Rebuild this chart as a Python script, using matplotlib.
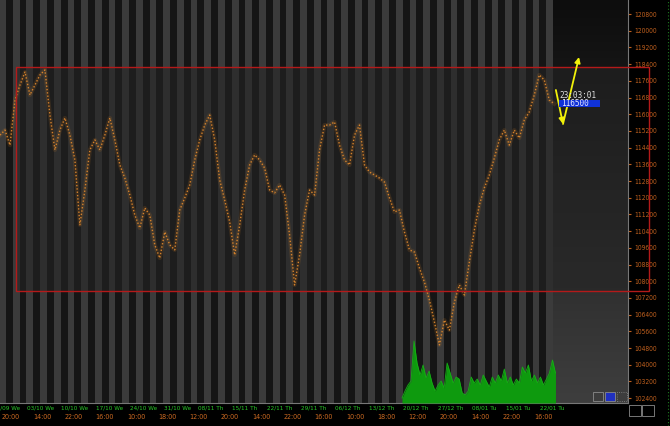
import numpy as np
import matplotlib
matplotlib.use('Agg')
import matplotlib.pyplot as plt
from matplotlib.patches import Rectangle
from matplotlib.colors import LinearSegmentedColormap
import matplotlib.transforms as mtransforms
from matplotlib import font_manager
from matplotlib.font_manager import FontProperties


# price samples, one every ~0.73 trading day
price = [115000, 115240, 114520, 116680, 117400, 118020, 116920, 117400, 117880, 118120,
         115960, 114290, 115240, 115820, 115000, 113810, 110700, 112370, 114290, 114770,
         114290, 115000, 115820, 114770, 113570, 112940, 112130, 111170, 110550, 111510,
         111170, 109740, 109110, 110360, 109740, 109500, 111410, 111990, 112610, 113810,
         114770, 115480, 115960, 114770, 112850, 111890, 110840, 109260, 110690, 112370,
         113570, 114050, 113810, 113420, 112370, 112230, 112610, 112130, 110210, 107820,
         109260, 111170, 112370, 112130, 114290, 115480, 115480, 115630, 114520, 113810,
         113570, 115000, 115480, 113570, 113230, 113090, 112940, 112750, 111990, 111320,
         111410, 110360, 109500, 109400, 108630, 107960, 107100, 106050, 104950, 106140,
         105660, 107000, 107820, 107340, 108920, 110450, 111650, 112470, 113090, 113900,
         114770, 115240, 114520, 115240, 114860, 115720, 116110, 116920, 117880, 117640,
         116680, 116500]
price_step = 0.73
price_start = 0.13

# volume histogram, one sample every ~0.44 day starting at day 58.9
volume = [5, 12, 18, 22, 62, 40, 28, 38, 25, 32, 20, 12, 18, 22, 15, 40, 30, 20, 26, 24,
          10, 8, 12, 26, 20, 24, 18, 28, 22, 16, 26, 20, 28, 22, 34, 20, 26, 18, 24, 20,
          36, 30, 38, 22, 28, 20, 26, 18, 24, 30, 43, 30]
vol_start = 58.9
vol_step = 0.44

n_days = 81
date_labels = ['26/09 We', '03/10 We', '10/10 We', '17/10 We', '24/10 We', '31/10 We',
               '08/11 Th', '15/11 Th', '22/11 Th', '29/11 Th', '06/12 Th', '13/12 Th',
               '20/12 Th', '27/12 Th', '08/01 Tu', '15/01 Tu', '22/01 Tu']
time_labels = ['20:00', '14:00', '22:00', '16:00', '10:00', '18:00', '12:00', '20:00', '14:00',
               '22:00', '16:00', '10:00', '18:00', '12:00', '20:00', '14:00', '22:00', '16:00']
yticks = list(range(102400, 121600, 800))

# marked range and drawn arrows
box_lo, box_hi = 107530, 118260
box_t0, box_t1 = 2.47, 95.0
arrow_t = [81.4, 82.44, 84.78]
arrow_p = [117160, 115531, 118740]
last_price = 116500
last_time = '23:03:01'


def pick_font():
    # prefer a narrow face, the chart uses a tight bitmap font
    for fam, st in [('DejaVu Sans', 'condensed'), ('Liberation Sans Narrow', 'normal'),
                    ('Roboto Condensed', 'normal'), ('Open Sans', 'condensed'),
                    ('Noto Sans', 'condensed'), ('Roboto', 'condensed')]:
        try:
            path = font_manager.findfont(FontProperties(family=fam, stretch=st),
                                         fallback_to_default=False)
        except Exception:
            continue
        if 'ondensed' in path or 'Narrow' in path:
            return FontProperties(fname=path)
    return FontProperties(family='DejaVu Sans Mono')


base_fp = pick_font()

W, H = 670, 426
fig = plt.figure(figsize=(W / 100, H / 100), dpi=100, facecolor='black')
renderer = fig.canvas.get_renderer()


def fit_size(sample, width_px, cap=7.0):
    t = fig.text(0, 0, sample, fontproperties=base_fp, fontsize=10)
    w = t.get_window_extent(renderer).width
    t.remove()
    return min(cap, 10 * width_px / w)


ax = fig.add_axes([0, 23 / H, 628 / W, 403 / H])
xmax = 0.13 + 628 / 6.84
ax.set_xlim(0.13, xmax)
ax.set_ylim(102167, 121471)
ax.set_facecolor('#151515')

for i in range(0, n_days, 2):
    ax.axvspan(i, i + 1, color='#3b3b3b', lw=0, zorder=0)

grad = LinearSegmentedColormap.from_list('g', ['#0d0d0d', '#3e3e3e'])
ax.imshow(np.linspace(0, 1, 200)[:, None], extent=[n_days, xmax, 102167, 121471],
          aspect='auto', cmap=grad, zorder=0.5)

# range box
ax.add_patch(Rectangle((box_t0, box_lo), box_t1 - box_t0, box_hi - box_lo,
                       facecolor='#242424', alpha=0.55, lw=0, zorder=1))
ax.add_patch(Rectangle((box_t0, box_lo), box_t1 - box_t0, box_hi - box_lo,
                       facecolor='none', edgecolor='#b41a1a', lw=1.0, zorder=6, clip_on=False))

# volume
axv = fig.add_axes(ax.get_position(), sharex=ax)
axv.set_ylim(0, 403)
axv.patch.set_visible(False)
axv.axis('off')
tv = vol_start + np.arange(len(volume)) * vol_step
axv.fill_between(tv, 0, volume, color='#0e9a0e', lw=0, zorder=2)
axv.plot(tv, volume, color='#14b014', lw=0.6)

# price
tp = price_start + np.arange(len(price)) * price_step
ax.plot(tp, price, color='#c87a26', lw=3.0, alpha=0.16, zorder=3)
ax.plot(tp, price, color='#d4822c', lw=1.0, ls=(0, (1, 1.4)), zorder=4)

# arrows
ax.annotate('', xy=(arrow_t[1], arrow_p[1]), xytext=(arrow_t[0], arrow_p[0]),
            arrowprops=dict(arrowstyle='-|>', color='#f2f20a', lw=1.3, mutation_scale=8,
                            shrinkA=0, shrinkB=0), zorder=7)
ax.annotate('', xy=(arrow_t[2], arrow_p[2]), xytext=(arrow_t[1], arrow_p[1]),
            arrowprops=dict(arrowstyle='-|>', color='#f2f20a', lw=1.3, mutation_scale=8,
                            shrinkA=0, shrinkB=0), zorder=7)

mono = 'DejaVu Sans Mono'
ax.add_patch(Rectangle((81.85, 116346), 6.0, 335, facecolor='#1032d8', lw=0, zorder=8,
                       clip_on=False))
ax.text(82.2, last_price + 12, str(last_price), color='#e8e8ff', fontsize=5.6, family=mono,
        va='center', ha='left', zorder=9, clip_on=False)
ax.text(81.9, last_price + 400, last_time, color='#e0e0e0', fontsize=5.6, family=mono,
        va='center', ha='left', zorder=9, clip_on=False)

# axes cosmetics
for s in ['top', 'left']:
    ax.spines[s].set_visible(False)
ax.spines['right'].set_color('#777777')
ax.spines['bottom'].set_color('#777777')
ax.spines['right'].set_linewidth(0.8)
ax.spines['bottom'].set_linewidth(0.8)
ax.set_xticks([])
ax.yaxis.tick_right()
ax.set_yticks(yticks)
ax.set_yticklabels([str(v) for v in yticks])
ysize = fit_size('120800', 23)
ax.tick_params(axis='y', colors='#c0601e', length=2.5, width=0.8, pad=2)
for lab in ax.get_yticklabels():
    lab.set_fontproperties(base_fp)
    lab.set_fontsize(ysize)

# two-row time axis
trans = mtransforms.blended_transform_factory(ax.transData, fig.transFigure)
dsize = fit_size('03/10 We', 27)
tsize = fit_size('20:00', 18.5)
for k, lab in enumerate(date_labels):
    ax.text(-0.9 + 5 * k, 1 - 408 / H, lab, transform=trans, color='#28c828',
            fontproperties=base_fp, fontsize=dsize, va='center', ha='left', clip_on=False)
for k, lab in enumerate(time_labels):
    ax.text(0.38 + 4.576 * k, 1 - 417 / H, lab, transform=trans, color='#cc6a22',
            fontproperties=base_fp, fontsize=tsize, va='center', ha='left', clip_on=False)

# small widgets
def fig_rect(x, y, w, h, **kw):
    fig.patches.append(Rectangle((x / W, 1 - (y + h) / H), w / W, h / H,
                                 transform=fig.transFigure, **kw))

fig_rect(593, 392, 10, 9, fc='none', ec='#8a8a8a', lw=0.6)
fig_rect(605, 392, 10, 9, fc='#2030c0', ec='#8a8a8a', lw=0.6)
fig_rect(617, 392, 10, 9, fc='none', ec='#8a8a8a', lw=0.6, ls=':')
fig_rect(629, 405, 12, 11, fc='none', ec='#8a8a8a', lw=0.6)
fig_rect(642, 405, 12, 11, fc='none', ec='#8a8a8a', lw=0.6)
fig.add_artist(plt.Line2D([667.5 / W, 667.5 / W], [0, 1], color='#1e7a1e', lw=0.8,
                          ls=(0, (1, 2)), transform=fig.transFigure))

fig.savefig('out.png', dpi=100, facecolor='black')
